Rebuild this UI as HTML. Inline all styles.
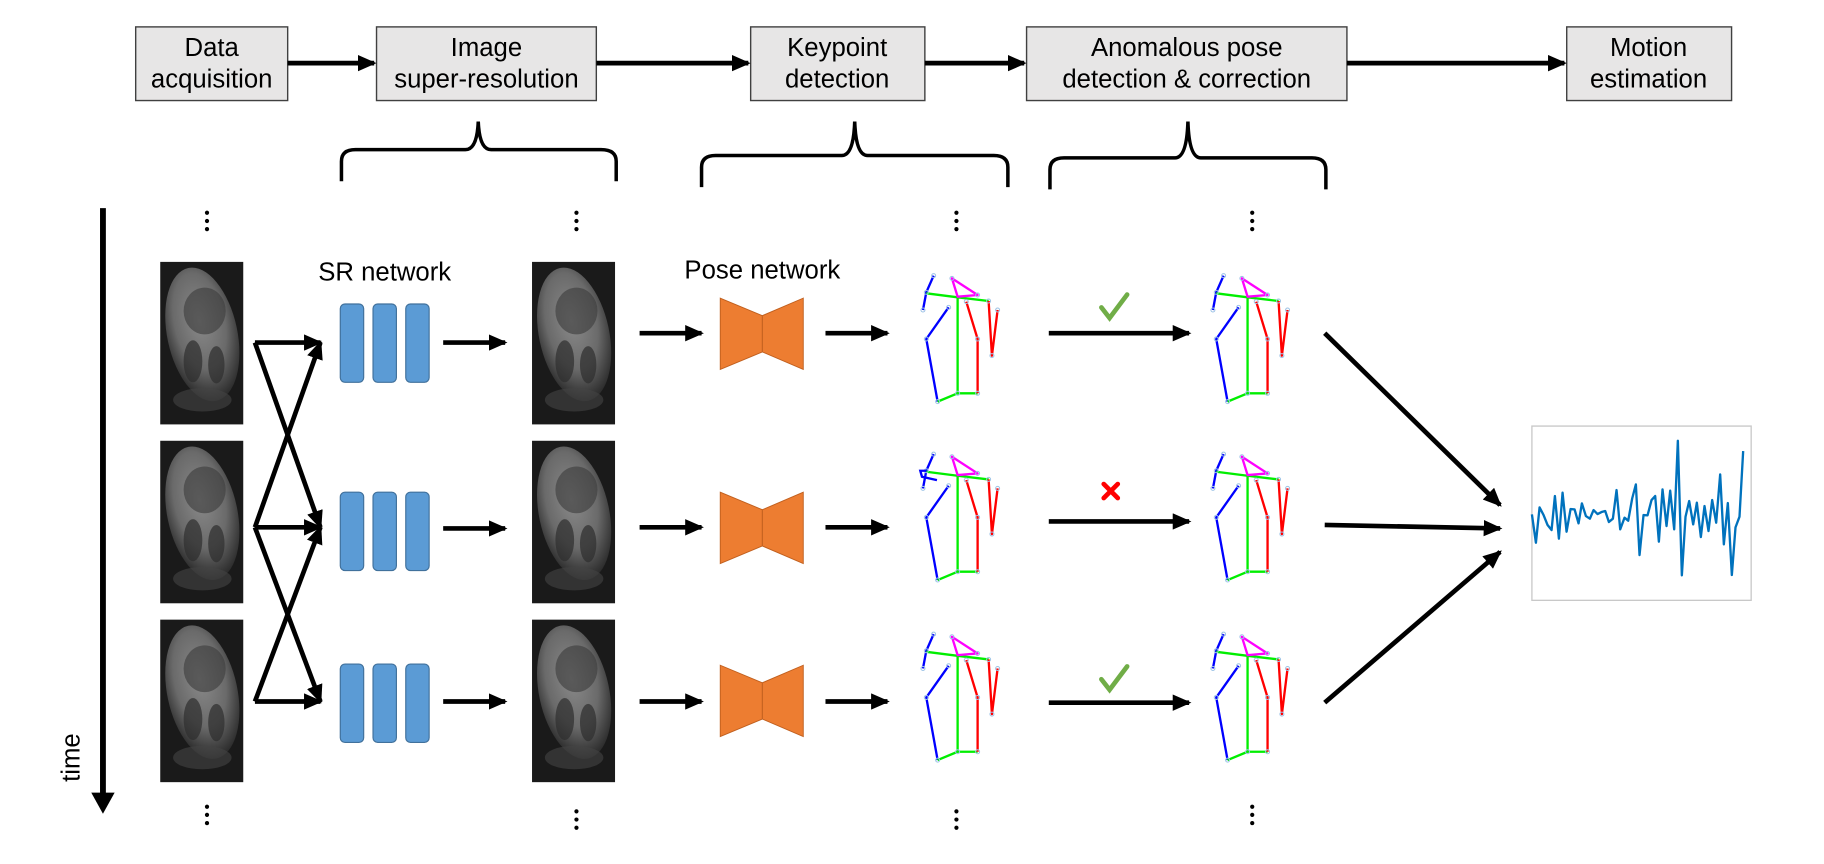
<!DOCTYPE html>
<html><head><meta charset="utf-8"><style>
html,body{margin:0;padding:0;background:#fff;width:1824px;height:864px;overflow:hidden}
svg{display:block}
text{font-family:"Liberation Sans",Arial,sans-serif;fill:#000}
</style></head><body>
<svg width="1824" height="864" viewBox="0 0 1560 739" xmlns="http://www.w3.org/2000/svg">
<defs>
<marker id="ah2" markerWidth="16" markerHeight="14" refX="14" refY="7" orient="auto" markerUnits="userSpaceOnUse" viewBox="0 0 16 14">
<path d="M0,0 L16,7 L0,14 z" fill="#000"/></marker>
<radialGradient id="mri" cx="0.5" cy="0.4" r="0.6">
<stop offset="0" stop-color="#8a8a8a"/><stop offset="0.6" stop-color="#6a6a6a"/><stop offset="1" stop-color="#2a2a2a"/></radialGradient>
<g id="dots"><circle cx="0" cy="0" r="1.8"/><circle cx="0" cy="7" r="1.8"/><circle cx="0" cy="14" r="1.8"/></g>
<g id="img">
<rect x="0" y="0" width="71" height="139" fill="#1a1a1a"/>
<ellipse cx="36" cy="62" rx="30" ry="58" fill="url(#mri)" transform="rotate(-12 36 62)"/>
<ellipse cx="38" cy="42" rx="18" ry="20" fill="#3a3a3a" opacity="0.6"/>
<ellipse cx="28" cy="85" rx="8" ry="18" fill="#2e2e2e" opacity="0.7"/>
<ellipse cx="48" cy="88" rx="7" ry="16" fill="#2e2e2e" opacity="0.7"/>
<ellipse cx="36" cy="118" rx="25" ry="10" fill="#444" opacity="0.6"/>
</g>
<g id="sr">
<rect x="0" y="0" width="20" height="67" rx="4" fill="#5b9bd5" stroke="#41719c"/>
<rect x="28" y="0" width="20" height="67" rx="4" fill="#5b9bd5" stroke="#41719c"/>
<rect x="56" y="0" width="20" height="67" rx="4" fill="#5b9bd5" stroke="#41719c"/>
</g>
<g id="pose">
<path d="M0,0 L36,15 L36,46 L0,61 z" fill="#ed7d31" stroke="#c05f1e" stroke-width="0.8"/>
<path d="M71,0 L36,15 L36,46 L71,61 z" fill="#ed7d31" stroke="#c05f1e" stroke-width="0.8"/>
</g>
<g id="skel" fill="none" stroke-width="7" stroke-linejoin="round">
<polyline points="100,47 78,97 68,150" stroke="#0000ff"/>
<polyline points="145,142 78,237 112,425" stroke="#0000ff"/>
<polyline points="78,100 172,112 265,123" stroke="#00ee00"/>
<polyline points="172,112 172,400" stroke="#00ee00"/>
<polyline points="112,425 172,400 232,400" stroke="#00ee00"/>
<polygon points="155,55 172,110 232,105" stroke="#ff00ff"/>
<polyline points="198,125 232,237 232,400" stroke="#ff0000"/>
<polyline points="265,123 275,287 292,150" stroke="#ff0000"/>
<g stroke="#9cc3e6" stroke-width="3">
<circle cx="100" cy="47" r="6"/><circle cx="78" cy="97" r="6"/><circle cx="68" cy="150" r="6"/>
<circle cx="145" cy="142" r="6"/><circle cx="78" cy="237" r="6"/><circle cx="112" cy="425" r="6"/>
<circle cx="265" cy="123" r="6"/><circle cx="155" cy="55" r="6"/><circle cx="232" cy="105" r="6"/>
<circle cx="198" cy="125" r="6"/><circle cx="232" cy="237" r="6"/><circle cx="232" cy="400" r="6"/>
<circle cx="172" cy="400" r="6"/><circle cx="275" cy="287" r="6"/><circle cx="292" cy="150" r="6"/>
</g>
</g>
</defs>

<g stroke="#404040" stroke-width="1.2" fill="#e7e6e6">
<rect x="116" y="23" width="130" height="63"/>
<rect x="322" y="23" width="188" height="63"/>
<rect x="642" y="23" width="149" height="63"/>
<rect x="878" y="23" width="274" height="63"/>
<rect x="1340" y="23" width="141" height="63"/>
</g>
<g font-size="22" text-anchor="middle">
<text x="181" y="48">Data</text><text x="181" y="75">acquisition</text>
<text x="416" y="48">Image</text><text x="416" y="75">super-resolution</text>
<text x="716" y="48">Keypoint</text><text x="716" y="75">detection</text>
<text x="1015" y="48">Anomalous pose</text><text x="1015" y="75">detection &amp; correction</text>
<text x="1410" y="48">Motion</text><text x="1410" y="75">estimation</text>
</g>
<g stroke="#000" stroke-width="4" marker-end="url(#ah2)">
<line x1="246" y1="54" x2="320" y2="54"/>
<line x1="510" y1="54" x2="640" y2="54"/>
<line x1="791" y1="54" x2="876" y2="54"/>
<line x1="1152" y1="54" x2="1338" y2="54"/>
</g>
<g fill="none" stroke="#000" stroke-width="3">
<path d="M292,155 L292,138 Q292,128 304,128 L398,128 Q408,128 409,104 Q410,128 420,128 L514,128 Q527,128 527,138 L527,155"/>
<path d="M600,160 L600,143 Q600,133 612,133 L720,133 Q730,133 731,104 Q732,133 742,133 L850,133 Q862,133 862,143 L862,160"/>
<path d="M898,162 L898,145 Q898,135 910,135 L1005,135 Q1015,135 1016,104 Q1017,135 1027,135 L1122,135 Q1134,135 1134,145 L1134,162"/>
</g>
<line x1="88" y1="178" x2="88" y2="680" stroke="#000" stroke-width="5"/>
<path d="M78,678 L98,678 L88,696 z" fill="#000"/>
<text x="68" y="648" font-size="22" transform="rotate(-90 68 648)" text-anchor="middle">time</text>
<g fill="#000">
<use href="#dots" x="177" y="182"/><use href="#dots" x="493" y="182"/><use href="#dots" x="818" y="182"/><use href="#dots" x="1071" y="182"/>
<use href="#dots" x="177" y="690"/><use href="#dots" x="493" y="694"/><use href="#dots" x="818" y="694"/><use href="#dots" x="1071" y="690"/>
</g>
<use href="#img" x="137" y="224"/><use href="#img" x="137" y="377"/><use href="#img" x="137" y="530"/>
<use href="#img" x="455" y="224"/><use href="#img" x="455" y="377"/><use href="#img" x="455" y="530"/>
<g stroke="#000" stroke-width="4" marker-end="url(#ah2)">
<line x1="218" y1="293" x2="274" y2="293"/><line x1="218" y1="293" x2="274" y2="451"/>
<line x1="218" y1="451" x2="274" y2="293"/><line x1="218" y1="451" x2="274" y2="451"/><line x1="218" y1="451" x2="274" y2="600"/>
<line x1="218" y1="600" x2="274" y2="451"/><line x1="218" y1="600" x2="274" y2="600"/>
</g>
<text x="329" y="240" font-size="22" text-anchor="middle">SR network</text>
<text x="652" y="238" font-size="22" text-anchor="middle">Pose network</text>
<use href="#sr" x="291" y="260"/><use href="#sr" x="291" y="421"/><use href="#sr" x="291" y="568"/>
<use href="#pose" x="616" y="255"/><use href="#pose" x="616" y="421"/><use href="#pose" x="616" y="569"/>
<g stroke="#000" stroke-width="4" marker-end="url(#ah2)">
<line x1="379" y1="293" x2="432" y2="293"/><line x1="379" y1="452" x2="432" y2="452"/><line x1="379" y1="600" x2="432" y2="600"/>
<line x1="547" y1="285" x2="600" y2="285"/><line x1="547" y1="451" x2="600" y2="451"/><line x1="547" y1="600" x2="600" y2="600"/>
<line x1="706" y1="285" x2="759" y2="285"/><line x1="706" y1="451" x2="759" y2="451"/><line x1="706" y1="600" x2="759" y2="600"/>
<line x1="897" y1="285" x2="1017" y2="285"/><line x1="897" y1="446" x2="1017" y2="446"/><line x1="897" y1="601" x2="1017" y2="601"/>
<line x1="1133" y1="285" x2="1283" y2="432"/><line x1="1133" y1="449" x2="1283" y2="452"/><line x1="1133" y1="601" x2="1283" y2="472"/>
</g>
<g transform="translate(770,222.4) scale(0.285)"><use href="#skel"/></g>
<g transform="translate(1018,222.4) scale(0.285)"><use href="#skel"/></g>
<g transform="translate(770,375) scale(0.285)"><use href="#skel"/><polyline points="78,97 60,97 65,115 110,125" fill="none" stroke="#0000ff" stroke-width="7"/></g>
<g transform="translate(1018,375) scale(0.285)"><use href="#skel"/></g>
<g transform="translate(770,529) scale(0.285)"><use href="#skel"/></g>
<g transform="translate(1018,529) scale(0.285)"><use href="#skel"/></g>
<g fill="none" stroke="#70ad47" stroke-width="4" stroke-linecap="round">
<path d="M942,263 L949,272 L964,252"/>
<path d="M942,581 L949,590 L964,570"/>
</g>
<g stroke="#ff0000" stroke-width="4" stroke-linecap="round">
<line x1="944" y1="414" x2="956" y2="426"/><line x1="956" y1="414" x2="944" y2="426"/>
</g>
<g transform="translate(1308.8,359.3) scale(0.285)">
<rect x="5" y="18" width="658" height="523" fill="#fff" stroke="#c8c8c8" stroke-width="4"/>
<polyline fill="none" stroke="#0072bd" stroke-width="7" stroke-linejoin="round" points="5,283 17,368 28,262 40,285 52,315 64,330 74,228 86,356 97,218 109,335 121,267 133,268 145,310 155,250 167,288 179,296 190,270 202,282 214,276 225,273 236,306 248,296 259,210 270,328 283,293 294,302 306,235 317,193 328,405 340,285 352,286 364,240 375,228 386,365 397,208 409,318 420,212 432,328 443,62 455,466 466,290 477,243 489,313 500,248 512,351 523,258 535,333 546,240 558,308 570,163 581,373 593,249 605,465 616,322 628,290 639,93"/>
</g>
</svg>
</body></html>
